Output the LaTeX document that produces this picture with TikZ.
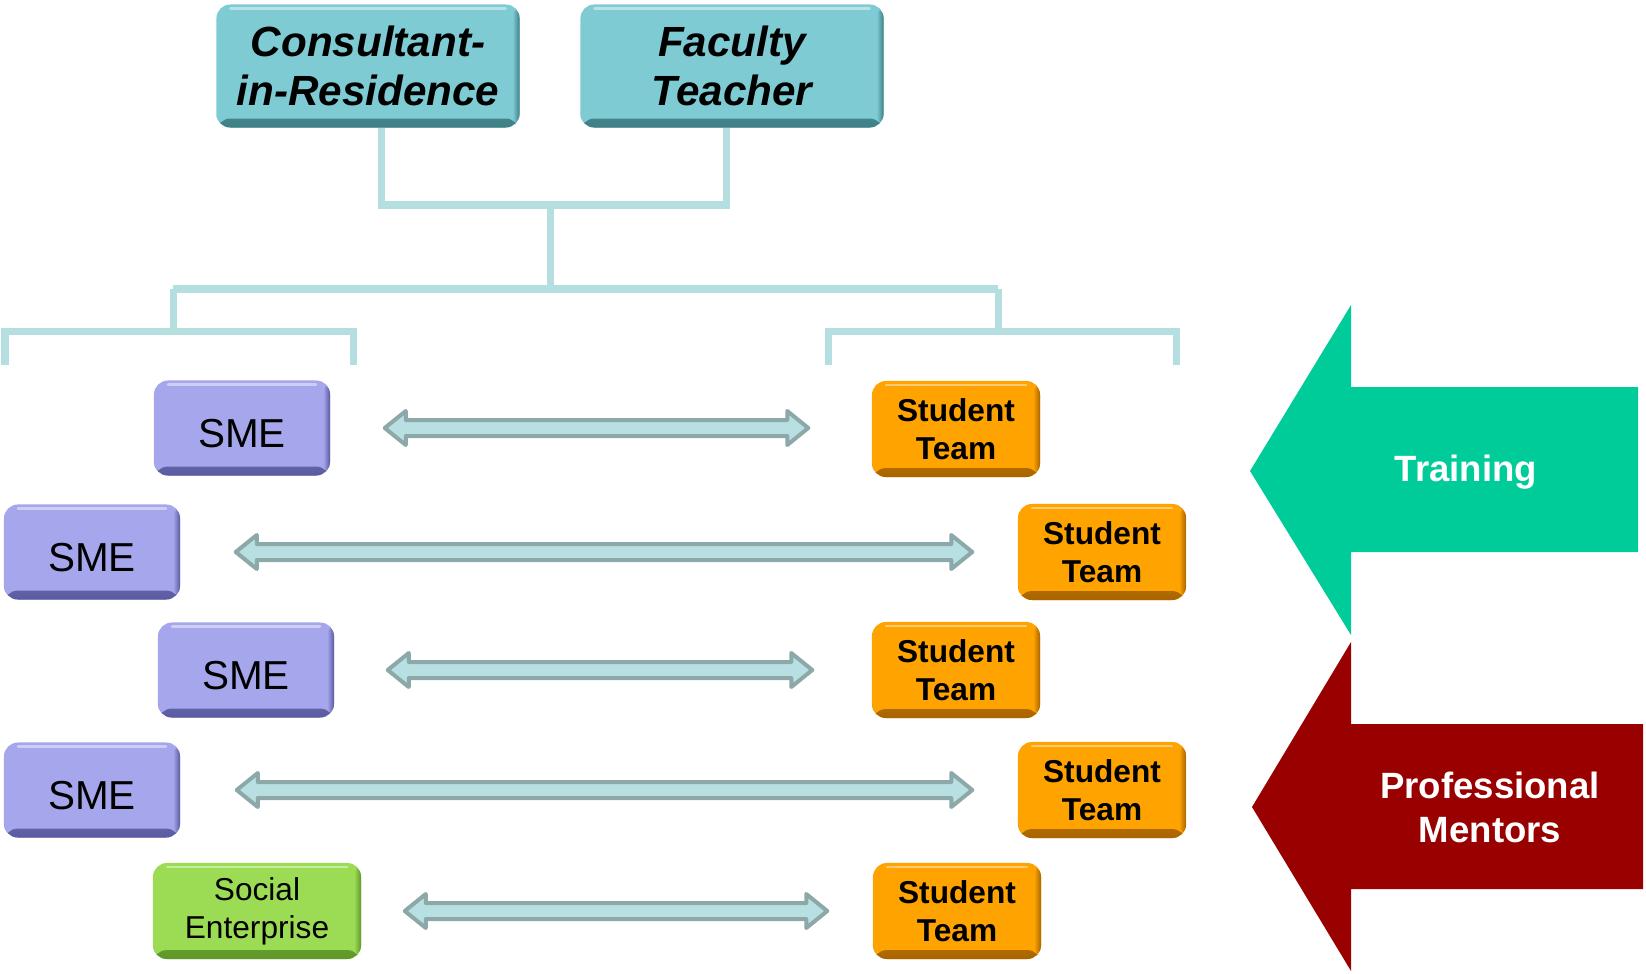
\documentclass[tikz,border=0pt]{standalone}
\usepackage{fontspec}
\setmainfont{Liberation Sans}
\usetikzlibrary{calc}

\definecolor{topfill}{HTML}{7ECBD3}
\definecolor{topedge}{HTML}{3F7F86}
\definecolor{smefill}{HTML}{A6A6EC}
\definecolor{smeedge}{HTML}{5A5AA0}
\definecolor{stfill}{HTML}{FFA300}
\definecolor{stedge}{HTML}{A86400}
\definecolor{sefill}{HTML}{9CDC55}
\definecolor{seedge}{HTML}{5E9628}
\definecolor{treeline}{HTML}{B5DEE0}
\definecolor{linkfill}{HTML}{B8E0E3}
\definecolor{linkedge}{HTML}{8CA8A8}
\definecolor{trainfill}{HTML}{00CC99}
\definecolor{mentorfill}{HTML}{990000}

\tikzset{
	bevel/.style 2 args={fill=#1, rounded corners=0.14cm, inner sep=0pt, align=center,
		path picture={
			\shade[top color=#1, bottom color=#2]
				([yshift=0.09cm]path picture bounding box.south west) rectangle (path picture bounding box.south east);
			\shade[left color=#1, right color=#2]
				([xshift=-0.07cm]path picture bounding box.north east) rectangle (path picture bounding box.south east);
			\draw[white, opacity=0.45, line width=0.025cm, line cap=round]
				([shift={(0.14cm,-0.04cm)}]path picture bounding box.north west)
				-- ([shift={(-0.14cm,-0.04cm)}]path picture bounding box.north east);
		}},
	topbox/.style={bevel={topfill}{topedge}, minimum width=3.03cm, minimum height=1.23cm,
		font=\bfseries\itshape\fontsize{12}{13.9}\selectfont},
	smebox/.style={bevel={smefill}{smeedge}, minimum width=1.76cm, minimum height=0.95cm,
		text height=0.38cm, text depth=0cm, font=\fontsize{11.5}{13}\selectfont},
	stbox/.style={bevel={stfill}{stedge}, minimum width=1.68cm, minimum height=0.96cm,
		font=\bfseries\fontsize{9}{10.8}\selectfont},
	sebox/.style={bevel={sefill}{seedge}, minimum width=2.08cm, minimum height=0.96cm,
		font=\fontsize{9}{10.8}\selectfont},
	tree/.style={draw=treeline, line width=0.07cm},
	link/.style={fill=linkfill, draw=linkedge, line width=0.04cm, line join=round},
	bigtext/.style={text=white, align=center, font=\bfseries\fontsize{10.4}{12.5}\selectfont},
}

\begin{document}
\begin{tikzpicture}[x=0.01cm, y=-0.01cm]
	\useasboundingbox (0,0) rectangle (1646,973);

	% top boxes
	\node[topbox] (cir) at (368,66) {Consultant-\\in-Residence};
	\node[topbox] (fac) at (732,66) {Faculty\\Teacher};

	% rows
	\node[smebox] (sme1) at (242,428) {SME};
	\node[stbox] (st1) at (956,429) {Student\\Team};
	\node[smebox] (sme2) at (92,552) {SME};
	\node[stbox] (st2) at (1102,552) {Student\\Team};
	\node[smebox] (sme3) at (246,670) {SME};
	\node[stbox] (st3) at (956,670) {Student\\Team};
	\node[smebox] (sme4) at (92,790) {SME};
	\node[stbox] (st4) at (1102,790) {Student\\Team};
	\node[sebox] (se) at (257,911) {Social\\Enterprise};
	\node[stbox] (st5) at (957,911) {Student\\Team};

	% tree
	\coordinate (jtop) at (550,205);
	\coordinate (jmid) at (550,289);
	\coordinate (jl) at (173,289);
	\coordinate (jr) at (998,289);
	\coordinate (bl) at (173,331);
	\coordinate (br) at (998,331);
	\coordinate (bl1) at (5,365);
	\coordinate (bl2) at (353,365);
	\coordinate (br1) at (828,365);
	\coordinate (br2) at (1176,365);
	\draw[tree] ($(cir.south)+(13,0)$) |- (jtop) -| ($(fac.south)+(-6,0)$);
	\draw[tree] (jtop) -- (jmid);
	\draw[tree] (jl) -- (jr);
	\draw[tree] (jl) -- (bl);
	\draw[tree] (jr) -- (br);
	\draw[tree] (bl1) |- (bl) -| (bl2);
	\draw[tree] (br1) |- (br) -| (br2);

	% double arrows
	\foreach \a/\b/\l/\r in {sme1/st1/54/63, sme2/st2/55/45, sme3/st3/53/59, sme4/st4/56/45, se/st5/43/45}{
		\coordinate (L) at ($(\a.east)+(\l,0)$);
		\coordinate (R) at ($(\b.west)+(-\r,0)$);
		\coordinate (Rt) at (L -| R);
		\draw[link] (L) -- ++(21,-17) -- ++(0,9) -- ($(Rt)+(-21,-8)$) -- ++(0,-9) -- (Rt)
			-- ++(-21,17) -- ++(0,-9) -- ($(L)+(21,8)$) -- ++(0,9) -- cycle;
	}

	% side arrows
	\fill[trainfill] (1250,471) -- (1351,305) -- (1351,387) -- (1638,387) -- (1638,552)
		-- (1351,552) -- (1351,635) -- cycle;
	\node[bigtext] (train) at (1466,472) {Training};
	\fill[mentorfill] (1252,807) -- (1351,642) -- (1351,724) -- (1643,724) -- (1643,889)
		-- (1351,889) -- (1351,971) -- cycle;
	\node[bigtext] (mentor) at (1490,807) {Professional\\Mentors};
\end{tikzpicture}
\end{document}
